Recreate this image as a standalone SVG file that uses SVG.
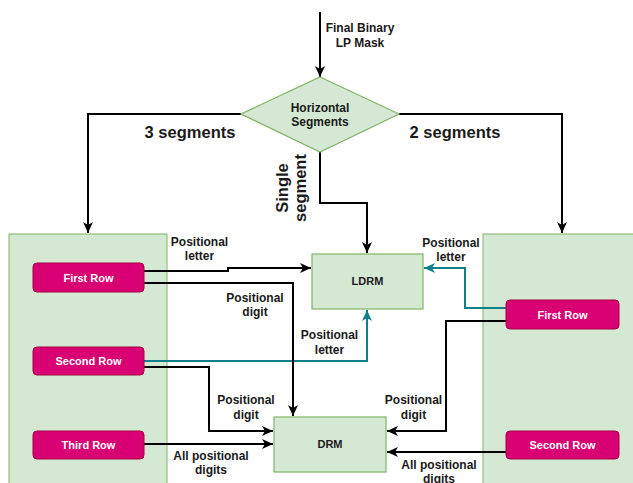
<svg xmlns="http://www.w3.org/2000/svg" width="633" height="483" viewBox="0 0 633 483">
  <defs>
    <marker id="arrow" markerUnits="userSpaceOnUse" markerWidth="12" markerHeight="12" viewBox="0 0 12 12" refX="11" refY="6" orient="auto">
      <path d="M0,1 L11,6 L0,11 L3,6 z" fill="#000"/>
    </marker>
    <marker id="arrow-teal" markerUnits="userSpaceOnUse" markerWidth="12" markerHeight="12" viewBox="0 0 12 12" refX="11" refY="6" orient="auto">
      <path d="M0,1 L11,6 L0,11 L3,6 z" fill="#0e8088"/>
    </marker>
    <style>
      .panel { fill: #d5e8d4; stroke: #82b366; stroke-width: 1; }
      .block { fill: #d5e8d4; stroke: #82b366; stroke-width: 1.2; }
      .row { fill: #d80073; stroke: #a50040; stroke-width: 1; }
      .rowtxt { font-family: "Liberation Sans", Arial, sans-serif; font-size: 11px; font-weight: bold; fill: #fff; text-anchor: middle; }
      .boxtxt { font-family: "Liberation Sans", Arial, sans-serif; font-size: 11px; font-weight: bold; fill: #1a1a1a; text-anchor: middle; }
      .lbl { font-family: "Liberation Sans", Arial, sans-serif; font-size: 12px; font-weight: bold; fill: #1a1a1a; text-anchor: middle; }
      .big { font-family: "Liberation Sans", Arial, sans-serif; font-size: 16.5px; font-weight: bold; fill: #1a1a1a; text-anchor: middle; }
      .wire { fill: none; stroke: #000; stroke-width: 2; marker-end: url(#arrow); }
      .wire-teal { fill: none; stroke: #0e8088; stroke-width: 2; marker-end: url(#arrow-teal); }
    </style>
  </defs>

  <rect width="633" height="483" fill="#fff"/>

  <!-- side panels -->
  <g id="left-panel">
    <rect class="panel" x="9" y="234" width="158" height="260"/>
  </g>
  <g id="right-panel">
    <rect class="panel" x="483" y="234" width="160" height="260"/>
  </g>

  <!-- connectors -->
  <g id="connectors">
    <path class="wire" d="M320,12 L320,77"/>
    <path class="wire" d="M241,114 L88,114 L88,233"/>
    <path class="wire" d="M399,114 L562,114 L562,233"/>
    <path class="wire" d="M320,152 L320,203 L367,203 L367,253"/>
    <path class="wire" d="M144,271 L228,271 L228,268 L311,268"/>
    <path class="wire-teal" d="M144,361 L367,361 L367,310"/>
    <path class="wire" d="M144,283 L293,283 L293,416"/>
    <path class="wire" d="M144,367 L209,367 L209,431 L273,431"/>
    <path class="wire" d="M144,444 L273,444"/>
    <path class="wire-teal" d="M506,308 L465,308 L465,268 L424,268"/>
    <path class="wire" d="M506,321 L446,321 L446,431 L387,431"/>
    <path class="wire" d="M506,452 L387,452"/>
  </g>

  <!-- connector labels -->
  <g id="labels">
    <text class="lbl" x="360" y="32">Final Binary</text>
    <text class="lbl" x="360" y="47">LP Mask</text>
    <text class="big" x="190" y="138">3 segments</text>
    <text class="big" x="455" y="138">2 segments</text>
    <text class="big" transform="translate(288,188) rotate(-90)">Single</text>
    <text class="big" transform="translate(306,188) rotate(-90)">segment</text>
    <text class="lbl" x="199.5" y="246">Positional</text>
    <text class="lbl" x="199.5" y="260">letter</text>
    <text class="lbl" x="255" y="302">Positional</text>
    <text class="lbl" x="255" y="316">digit</text>
    <text class="lbl" x="329.5" y="339">Positional</text>
    <text class="lbl" x="329.5" y="354">letter</text>
    <text class="lbl" x="246" y="404">Positional</text>
    <text class="lbl" x="246" y="419">digit</text>
    <text class="lbl" x="211" y="460">All positional</text>
    <text class="lbl" x="211" y="474">digits</text>
    <text class="lbl" x="451" y="247">Positional</text>
    <text class="lbl" x="451" y="261">letter</text>
    <text class="lbl" x="413.5" y="404">Positional</text>
    <text class="lbl" x="413.5" y="419">digit</text>
    <text class="lbl" x="439" y="469">All positional</text>
    <text class="lbl" x="439" y="483">digits</text>
  </g>

  <!-- decision -->
  <g id="horizontal-segments">
    <path d="M320,77 L399,114 L320,152 L241,114 z" fill="#d5e8d4" stroke="#82b366" stroke-width="1.2"/>
    <text class="lbl" x="320" y="112">Horizontal</text>
    <text class="lbl" x="320" y="126">Segments</text>
  </g>

  <!-- recognition modules -->
  <g id="ldrm">
    <rect class="block" x="312" y="254" width="111" height="55"/>
    <text class="boxtxt" x="367.5" y="285">LDRM</text>
  </g>
  <g id="drm">
    <rect class="block" x="274" y="417" width="112" height="55"/>
    <text class="boxtxt" x="330" y="448">DRM</text>
  </g>

  <!-- row segments, three-row plate -->
  <g id="left-first-row">
    <rect class="row" x="33" y="263" width="111" height="29" rx="4"/>
    <text class="rowtxt" x="88.5" y="281.5">First Row</text>
  </g>
  <g id="left-second-row">
    <rect class="row" x="33" y="347" width="111" height="28" rx="4"/>
    <text class="rowtxt" x="88.5" y="365">Second Row</text>
  </g>
  <g id="left-third-row">
    <rect class="row" x="33" y="431" width="111" height="28" rx="4"/>
    <text class="rowtxt" x="88.5" y="449">Third Row</text>
  </g>

  <!-- row segments, two-row plate -->
  <g id="right-first-row">
    <rect class="row" x="506" y="300" width="113" height="29" rx="4"/>
    <text class="rowtxt" x="562.5" y="318.5">First Row</text>
  </g>
  <g id="right-second-row">
    <rect class="row" x="506" y="431" width="113" height="28" rx="4"/>
    <text class="rowtxt" x="562.5" y="449">Second Row</text>
  </g>
</svg>
